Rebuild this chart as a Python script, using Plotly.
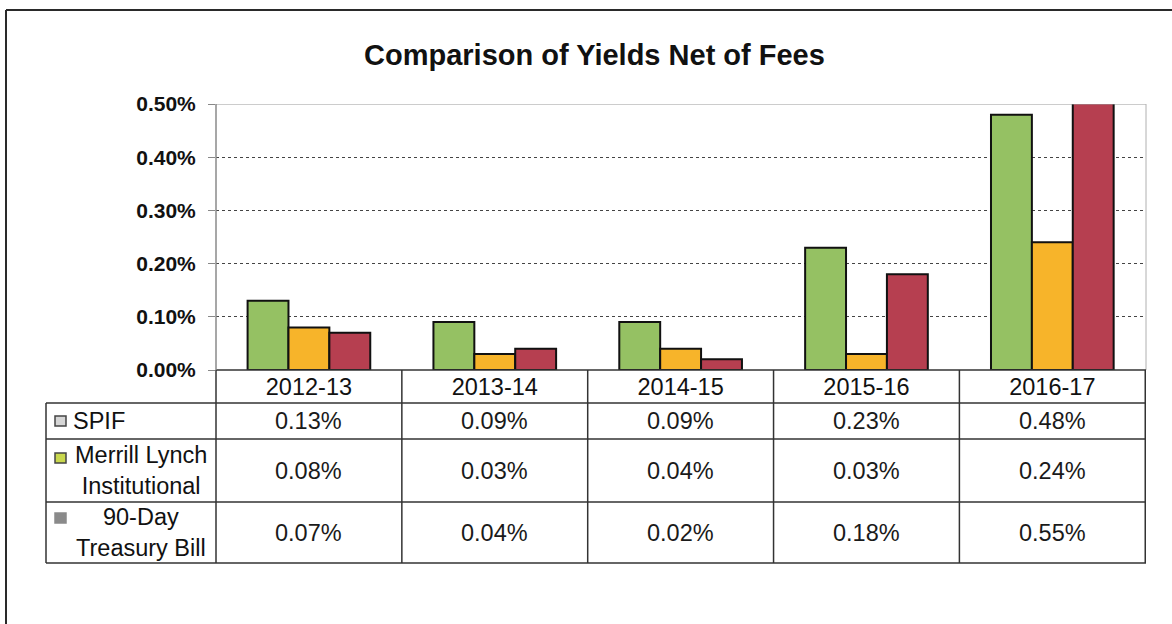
import plotly.graph_objects as go

# ---- data -------------------------------------------------------------
years = ["2012-13", "2013-14", "2014-15", "2015-16", "2016-17"]
spif = [0.13, 0.09, 0.09, 0.23, 0.48]
merrill = [0.08, 0.03, 0.04, 0.03, 0.24]
tbill = [0.07, 0.04, 0.02, 0.18, 0.55]

series_names = ["SPIF", "Merrill Lynch<br>Institutional", "90-Day<br>Treasury Bill"]
series_values = [spif, merrill, tbill]
bar_colors = ["#95C163", "#F7B42A", "#B63F50"]
key_fill = ["#D6D6D6", "#C9D84E", "#8A8A8A"]
key_line = ["#444444", "#444444", "#8A8A8A"]

y_ticks = [0.0, 0.1, 0.2, 0.3, 0.4, 0.5]

# ---- page geometry (pixels) -------------------------------------------
W, H = 1172, 624
PLOT_L, PLOT_R = 216, 1146
PLOT_TOP, PLOT_BOT = 104, 370
TABLE_L = 46
ROW_Y = [370, 403, 439, 502, 563]   # header row, then one row per series
KEY_X = (55, 66)

FONT = "Arial, 'Liberation Sans', sans-serif"
TXT = 23.5


def py(y):
    """pixel row -> paper fraction"""
    return 1 - y / H


def px(x):
    return x / W


fig = go.Figure()

for name, vals, col in zip(series_names, series_values, bar_colors):
    fig.add_trace(go.Bar(
        x=years, y=vals, name=name.replace("<br>", " "),
        marker=dict(color=col, line=dict(color="#111111", width=2)),
        showlegend=False, hoverinfo="x+y",
    ))

shapes = []
annotations = []

# outer frame (top and left edges)
shapes.append(dict(type="line", xref="paper", yref="paper",
                   x0=px(6), x1=1.0, y0=py(10), y1=py(10),
                   line=dict(color="#2a2a2a", width=2)))
shapes.append(dict(type="line", xref="paper", yref="paper",
                   x0=px(6), x1=px(6), y0=py(10), y1=0.0,
                   line=dict(color="#2a2a2a", width=2)))

# plot area: solid top edge and right edge
shapes.append(dict(type="line", xref="paper", yref="y",
                   x0=px(PLOT_L), x1=px(PLOT_R), y0=y_ticks[-1], y1=y_ticks[-1],
                   line=dict(color="#9a9a9a", width=1.2)))
shapes.append(dict(type="line", xref="paper", yref="paper",
                   x0=px(PLOT_R), x1=px(PLOT_R), y0=py(PLOT_TOP), y1=py(PLOT_BOT),
                   line=dict(color="#b0b0b0", width=1)))

# data table grid
tline = dict(color="#333333", width=1.5)
for i, yy in enumerate(ROW_Y):
    x0 = PLOT_L if i == 0 else TABLE_L
    shapes.append(dict(type="line", xref="paper", yref="paper",
                       x0=px(x0), x1=px(PLOT_R), y0=py(yy), y1=py(yy), line=tline))
shapes.append(dict(type="line", xref="paper", yref="paper",
                   x0=px(TABLE_L), x1=px(TABLE_L), y0=py(ROW_Y[1]), y1=py(ROW_Y[-1]),
                   line=tline))
shapes.append(dict(type="line", xref="paper", yref="paper",
                   x0=px(PLOT_L), x1=px(PLOT_L), y0=py(PLOT_TOP), y1=py(ROW_Y[0]),
                   line=dict(color="#8a8a8a", width=1.5)))
shapes.append(dict(type="line", xref="paper", yref="paper",
                   x0=px(PLOT_L), x1=px(PLOT_L), y0=py(ROW_Y[0]), y1=py(ROW_Y[-1]),
                   line=tline))
for k in range(len(years)):
    xb = k + 0.5
    shapes.append(dict(type="line", xref="x", yref="paper",
                       x0=xb, x1=xb, y0=py(ROW_Y[0]), y1=py(ROW_Y[-1]), line=tline))

# series labels, legend keys and values
for r, (name, vals) in enumerate(zip(series_names, series_values)):
    top, bot = ROW_Y[r + 1], ROW_Y[r + 2]
    mid = (top + bot) / 2
    if "<br>" in name:
        annotations.append(dict(xref="paper", yref="paper", x=px(141), y=py(mid),
                                text=name, showarrow=False, xanchor="center",
                                yanchor="middle", align="center",
                                font=dict(family=FONT, size=TXT, color="#111111")))
        key_y = top + 19 if r == 1 else top + 16
    else:
        annotations.append(dict(xref="paper", yref="paper", x=px(71), y=py(mid),
                                text=name, showarrow=False, xanchor="left",
                                yanchor="middle",
                                font=dict(family=FONT, size=TXT, color="#111111")))
        key_y = mid
    shapes.append(dict(type="rect", xref="paper", yref="paper",
                       x0=px(KEY_X[0]), x1=px(KEY_X[1]),
                       y0=py(key_y - 5), y1=py(key_y + 5),
                       fillcolor=key_fill[r], line=dict(color=key_line[r], width=1.5)))
    for yr, v in zip(years, vals):
        annotations.append(dict(xref="x", yref="paper", x=yr, y=py(mid),
                                text=f"{v:.2f}%", showarrow=False,
                                xanchor="center", yanchor="middle",
                                font=dict(family=FONT, size=TXT, color="#1a1a1a")))

# title
annotations.append(dict(xref="paper", yref="paper", x=px(595), y=py(55),
                        text="<b>Comparison of Yields Net of Fees</b>",
                        showarrow=False, xanchor="center", yanchor="middle",
                        font=dict(family=FONT, size=29, color="#111111")))

fig.update_layout(
    width=W, height=H, autosize=False,
    margin=dict(l=0, r=0, t=0, b=0, pad=0),
    paper_bgcolor="white", plot_bgcolor="white",
    barmode="group", bargap=0.34, bargroupgap=0,
    shapes=shapes, annotations=annotations,
    xaxis=dict(domain=[px(PLOT_L), px(PLOT_R)], anchor="y", automargin=False,
               showgrid=False, zeroline=False, showline=False,
               ticks="", ticklabelstandoff=0,
               tickfont=dict(family=FONT, size=TXT, color="#111111")),
    yaxis=dict(domain=[py(PLOT_BOT), py(PLOT_TOP)], range=[0, 0.5], automargin=False,
               tickvals=y_ticks, ticktext=[f"<b>{v:.2f}%</b>" for v in y_ticks],
               showgrid=True, griddash="dot", gridcolor="#444444", gridwidth=1,
               zeroline=False, showline=False,
               ticks="outside", ticklen=7, tickcolor="#888888",
               ticklabelstandoff=8,
               tickfont=dict(family=FONT, size=21, color="#111111")),
)

fig.write_html("out.html")
